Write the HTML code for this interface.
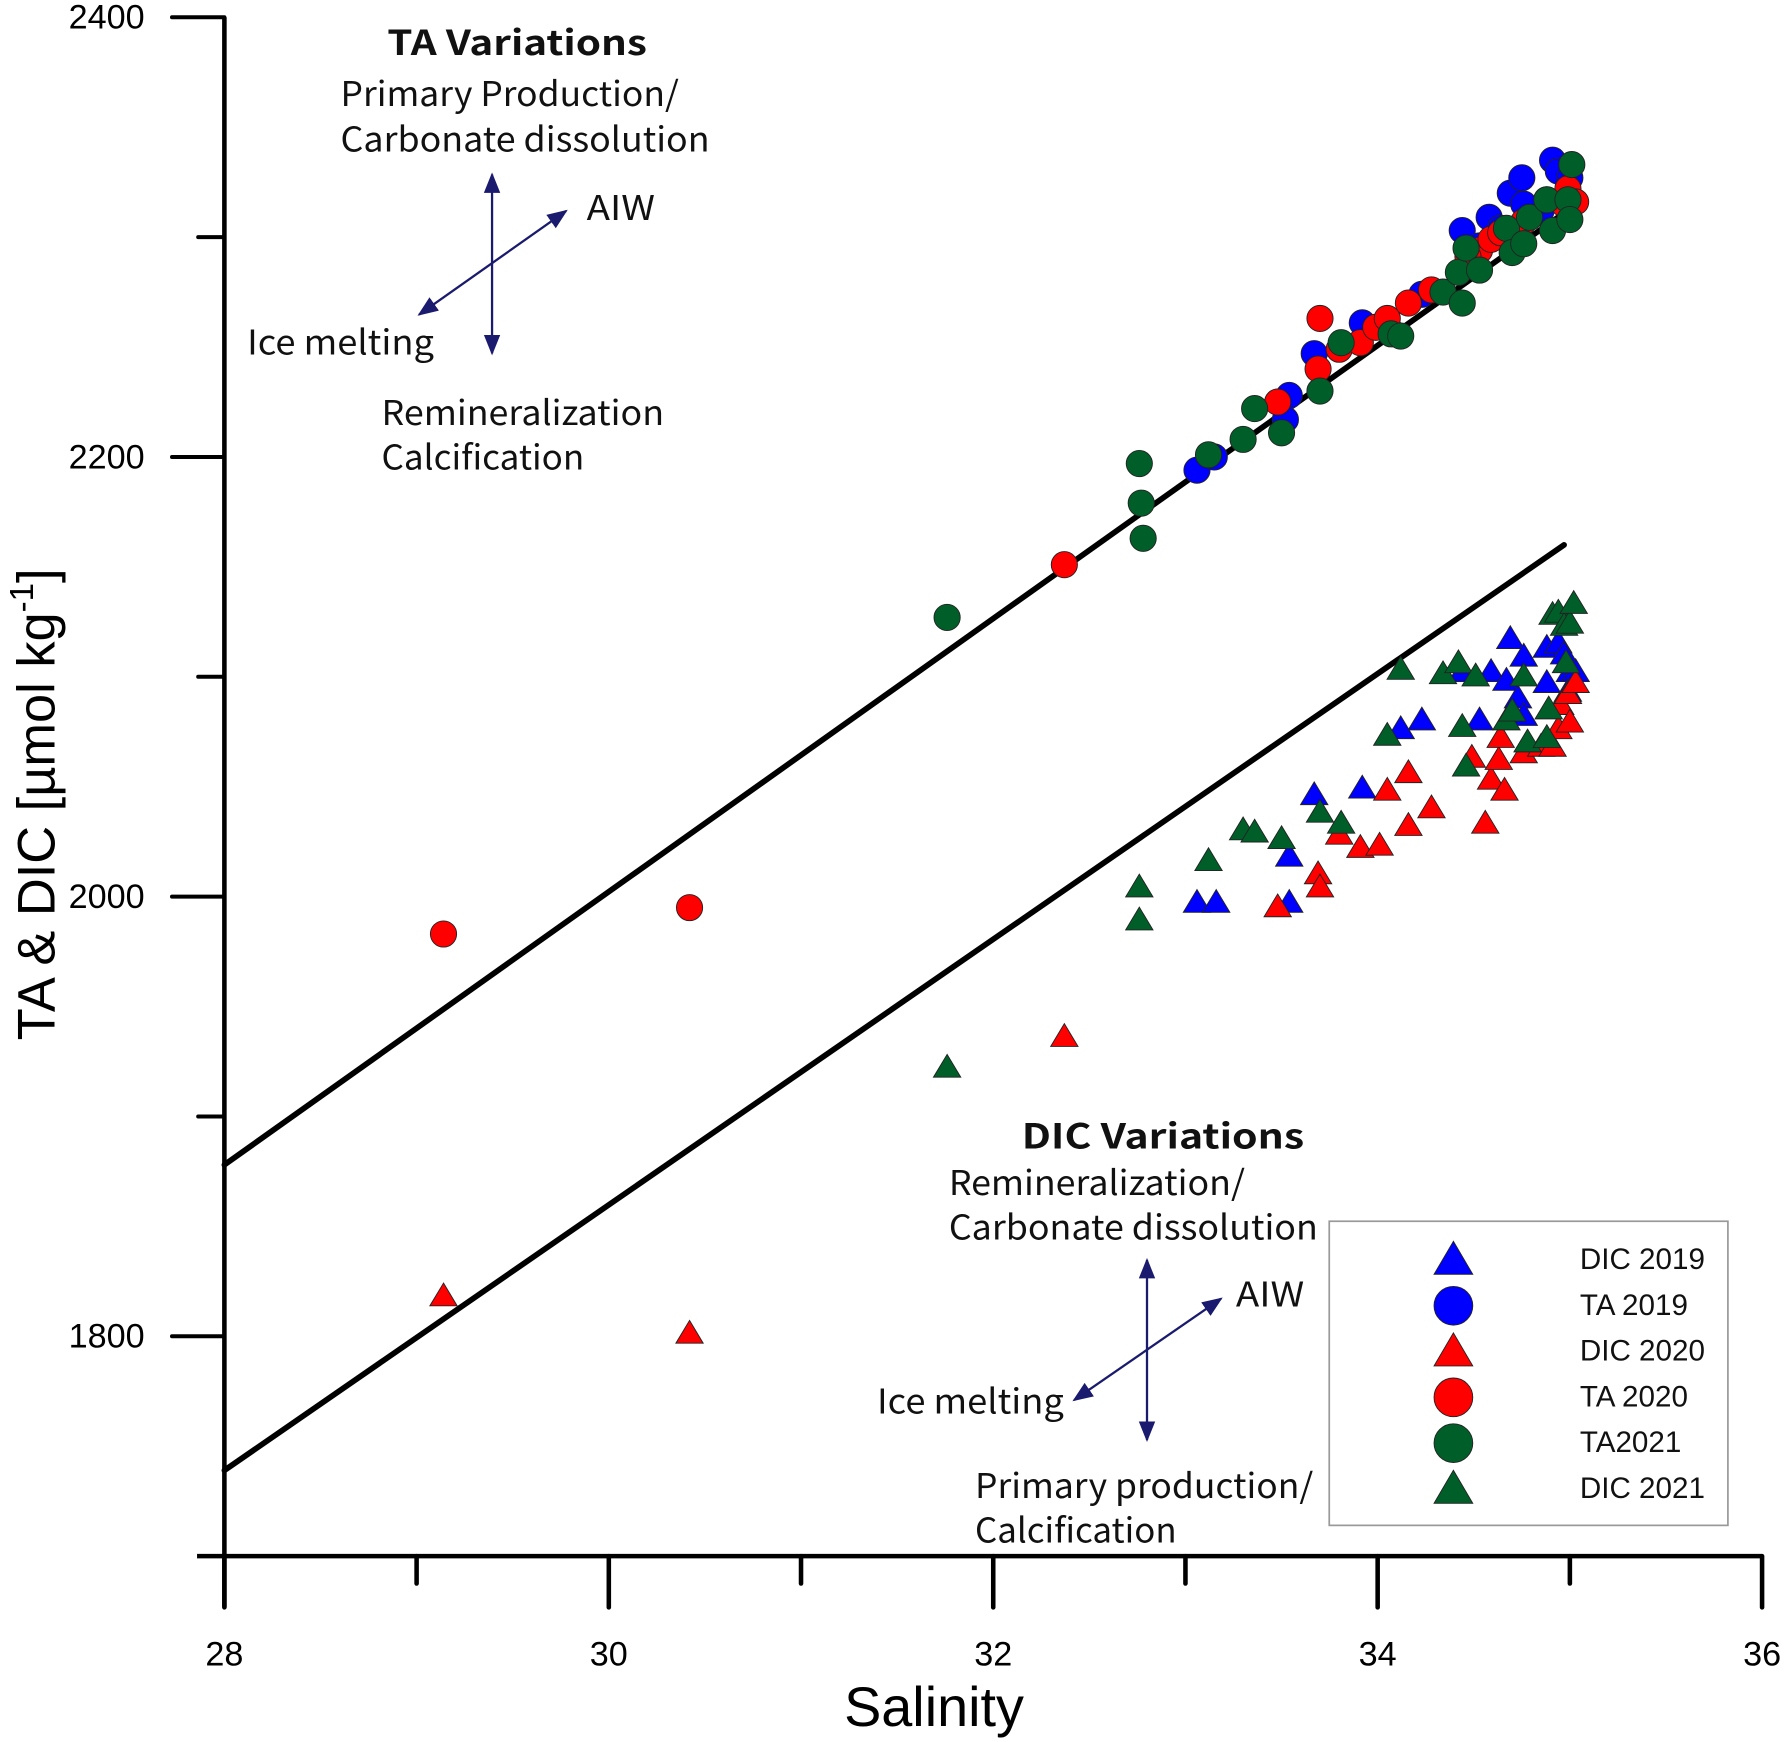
<!DOCTYPE html>
<html><head><meta charset="utf-8"><style>
html,body{margin:0;padding:0;background:#fff;}
svg{display:block;}
.ann{font-family:"Noto Sans CJK SC","DejaVu Sans",sans-serif;font-size:30px;fill:#111;}
.tick{font-family:"Liberation Sans",Arial,sans-serif;font-size:30px;fill:#000;}
.leg{font-family:"Liberation Sans",Arial,sans-serif;font-size:26px;fill:#111;}
</style></head><body>
<svg id="chart" width="1786" height="1742" viewBox="0 0 1568 1529" xmlns="http://www.w3.org/2000/svg">
<defs>
<marker id="ah" viewBox="0 0 10 10" refX="9" refY="5" markerWidth="9" markerHeight="9" orient="auto-start-reverse"><path d="M0,1 L10,5 L0,9 Z" fill="#1a1a6e"/></marker>
</defs>
<g id="axes"></g>
<g id="lines"></g>
<g id="marks"></g>

<text transform="translate(48,706) rotate(-90)" text-anchor="middle" font-family="Liberation Sans, Arial, sans-serif" font-size="46" fill="#000">TA &amp; DIC [µmol kg<tspan dy="-19" font-size="29">-1</tspan><tspan dy="19">]</tspan></text>
<text x="820" y="1515" text-anchor="middle" font-family="Liberation Sans, Arial, sans-serif" font-size="49" fill="#000">Salinity</text>

<g>
<text class="ann" x="340" y="48" font-weight="bold" font-size="32" textLength="228" lengthAdjust="spacingAndGlyphs">TA Variations</text>
<text class="ann" x="299" y="93" textLength="297" lengthAdjust="spacingAndGlyphs">Primary Production/</text>
<text class="ann" x="299" y="133" textLength="324" lengthAdjust="spacingAndGlyphs">Carbonate dissolution</text>
<text class="ann" x="515" y="193" textLength="60" lengthAdjust="spacingAndGlyphs">AIW</text>
<text class="ann" x="217" y="311" textLength="164" lengthAdjust="spacingAndGlyphs">Ice melting</text>
<text class="ann" x="335" y="373" textLength="248" lengthAdjust="spacingAndGlyphs">Remineralization</text>
<text class="ann" x="335" y="412" textLength="178" lengthAdjust="spacingAndGlyphs">Calcification</text>
<line x1="432" y1="153" x2="432" y2="310" stroke="#1a1a6e" stroke-width="2" marker-start="url(#ah)" marker-end="url(#ah)"/>
<line x1="368" y1="276" x2="497" y2="185" stroke="#1a1a6e" stroke-width="2" marker-start="url(#ah)" marker-end="url(#ah)"/>
</g>
<g>
<text class="ann" x="897" y="1008" font-weight="bold" font-size="32" textLength="248" lengthAdjust="spacingAndGlyphs">DIC Variations</text>
<text class="ann" x="833" y="1049" textLength="260" lengthAdjust="spacingAndGlyphs">Remineralization/</text>
<text class="ann" x="833" y="1088" textLength="324" lengthAdjust="spacingAndGlyphs">Carbonate dissolution</text>
<text class="ann" x="1085" y="1147" textLength="60" lengthAdjust="spacingAndGlyphs">AIW</text>
<text class="ann" x="770" y="1241" textLength="164" lengthAdjust="spacingAndGlyphs">Ice melting</text>
<text class="ann" x="856" y="1315" textLength="297" lengthAdjust="spacingAndGlyphs">Primary production/</text>
<text class="ann" x="856" y="1354" textLength="177" lengthAdjust="spacingAndGlyphs">Calcification</text>
<line x1="1007" y1="1106" x2="1007" y2="1264" stroke="#1a1a6e" stroke-width="2" marker-start="url(#ah)" marker-end="url(#ah)"/>
<line x1="943" y1="1229" x2="1072" y2="1140" stroke="#1a1a6e" stroke-width="2" marker-start="url(#ah)" marker-end="url(#ah)"/>
</g>
<g id="legend">
<rect x="1167" y="1072" width="350" height="267" fill="#fff" stroke="#999" stroke-width="1.5"/>
</g>
</svg>
<script>
// ---- data ----
const xTicks = [28, 30, 32, 34, 36];
const xMinor = [29, 31, 33, 35];
const yTicks = [1800, 2000, 2200, 2400];
const yMinor = [1900, 2100, 2300];
const taLine = [[28, 1878], [34.97, 2311]];
const dicLine = [[28, 1739], [34.97, 2160]];

const ta2019S = [33.06,33.15,33.54,33.52,33.67,33.92,34.07,34.23,34.44,34.58,34.69,34.75,34.91,34.94,35.00,34.85,34.76,34.64,34.53];
const ta2019V = [2194,2200,2228,2217,2247,2261,2257,2274,2303,2309,2320,2327,2335,2330,2327,2312,2315,2304,2296];
const ta2020S = [29.14,30.42,32.37,33.48,33.69,33.70,33.80,33.91,33.99,34.05,34.16,34.28,34.53,34.59,34.64,34.76,34.88,34.99,35.03,34.97,34.47];
const ta2020V = [1983,1995,2151,2225,2240,2263,2249,2252,2259,2263,2270,2276,2294,2299,2302,2307,2317,2322,2316,2315,2291];
const ta2021S = [31.76,32.76,32.77,32.78,33.12,33.30,33.36,33.50,33.70,33.81,34.07,34.12,34.34,34.44,34.42,34.46,34.53,34.67,34.70,34.76,34.79,34.88,34.91,34.99,35.01,35.00];
const ta2021V = [2127,2197,2179,2163,2201,2208,2222,2211,2230,2252,2256,2255,2275,2270,2284,2295,2285,2304,2293,2297,2309,2317,2303,2317,2333,2308];
const dic2019S = [33.06,33.16,33.54,33.54,33.67,33.92,34.12,34.23,34.44,34.59,34.53,34.69,34.76,34.67,34.73,34.76,34.88,34.94,34.97,35.00,35.03,34.88,34.99];
const dic2019V = [1997,1997,2018,1997,2046,2049,2076,2080,2102,2102,2080,2117,2109,2098,2090,2082,2113,2115,2110,2102,2102,2097,2093];
const dic2020S = [29.14,30.42,32.37,33.48,33.69,33.70,33.80,33.91,34.01,34.05,34.16,34.16,34.28,34.56,34.49,34.59,34.63,34.66,34.64,34.76,34.85,34.91,34.94,34.95,34.99,35.00,35.03];
const dic2020V = [1818,1801,1936,1995,2010,2004,2028,2022,2023,2048,2056,2032,2040,2033,2063,2053,2062,2048,2072,2065,2068,2068,2076,2087,2092,2079,2097];
const dic2021S = [31.76,32.76,32.76,33.12,33.30,33.36,33.50,33.70,33.81,34.05,34.12,34.34,34.42,34.51,34.44,34.46,34.67,34.76,34.70,34.78,34.88,34.89,34.91,34.94,34.97,35.00,35.02,34.98];
const dic2021V = [1922,2004,1989,2016,2030,2029,2026,2038,2033,2073,2103,2101,2106,2100,2077,2059,2080,2100,2084,2070,2072,2085,2128,2129,2123,2124,2133,2106];

// ---- scales ----
const X0 = 197, XPER = 168.75, Y0 = 15, YPER = 1.93;
const sx = s => X0 + (s - 28) * XPER;
const sy = v => Y0 + (2400 - v) * YPER;
const NS = 'http://www.w3.org/2000/svg';
function mk(tag, attrs, parent) {
  const e = document.createElementNS(NS, tag);
  for (const k in attrs) e.setAttribute(k, attrs[k]);
  parent.appendChild(e);
  return e;
}
const axes = document.getElementById('axes');
const xBase = sy(1700);
let e;
e = mk('line', {x1: sx(28), y1: sy(2400), x2: sx(28), y2: xBase + 45, stroke: '#000', 'stroke-width': 4}, axes);


e = mk('line', {x1: sx(28) - 24, y1: xBase, x2: sx(36), y2: xBase, stroke: '#000', 'stroke-width': 4}, axes);


xTicks.forEach(t => {
  const x = sx(t);
  e = mk('line', {x1: x, y1: xBase, x2: x, y2: xBase + 45, stroke: '#000', 'stroke-width': 4, 'stroke-linecap': 'round'}, axes);
  
  
  e = mk('text', {x: x, y: xBase + 96, class: 'tick', 'text-anchor': 'middle'}, axes);
  e.textContent = t;
  
  
});
xMinor.forEach(t => {
  const x = sx(t);
  e = mk('line', {x1: x, y1: xBase, x2: x, y2: xBase + 24, stroke: '#000', 'stroke-width': 4, 'stroke-linecap': 'round'}, axes);
  
  
});
yTicks.forEach(t => {
  const y = sy(t);
  e = mk('line', {x1: 151, y1: y, x2: sx(28), y2: y, stroke: '#000', 'stroke-width': 3.5, 'stroke-linecap': 'round'}, axes);
  
  
  e = mk('text', {x: 127, y: y + 10, class: 'tick', 'text-anchor': 'end'}, axes);
  e.textContent = t;
  
  
});
yMinor.forEach(t => {
  const y = sy(t);
  e = mk('line', {x1: 174, y1: y, x2: sx(28), y2: y, stroke: '#000', 'stroke-width': 3.5, 'stroke-linecap': 'round'}, axes);
  
  
});
const lines = document.getElementById('lines');
e = mk('line', {x1: sx(taLine[0][0]), y1: sy(taLine[0][1]), x2: sx(taLine[1][0]), y2: sy(taLine[1][1]), stroke: '#000', 'stroke-width': 5, 'stroke-linecap': 'round'}, lines);


e = mk('line', {x1: sx(dicLine[0][0]), y1: sy(dicLine[0][1]), x2: sx(dicLine[1][0]), y2: sy(dicLine[1][1]), stroke: '#000', 'stroke-width': 5, 'stroke-linecap': 'round'}, lines);



const marks = document.getElementById('marks');
function tri(cx, cy, w, h, fill, parent) {
  const p = `${cx},${cy - h * 0.6} ${cx - w / 2},${cy + h * 0.4} ${cx + w / 2},${cy + h * 0.4}`;
  return mk('polygon', {points: p, fill: fill, stroke: '#222', 'stroke-width': 0.8}, parent);
}
function circ(cx, cy, r, fill, parent) {
  return mk('circle', {cx: cx, cy: cy, r: r, fill: fill, stroke: '#222', 'stroke-width': 0.8}, parent);
}
const BLUE = '#0000ff', RED = '#ff0000', GREEN = '#005f28';
const triSeries = [[dic2019S, dic2019V, BLUE, 'dic-2019-point'], [dic2020S, dic2020V, RED, 'dic-2020-point'], [dic2021S, dic2021V, GREEN, 'dic-2021-point']];
const circSeries = [[ta2019S, ta2019V, BLUE, 'ta-2019-point'], [ta2020S, ta2020V, RED, 'ta-2020-point'], [ta2021S, ta2021V, GREEN, 'ta-2021-point']];
triSeries.forEach(([S, V, c, n]) => S.forEach((s, i) => {
  e = tri(sx(s), sy(V[i]), 24, 20, c, marks);
  
  
}));
circSeries.forEach(([S, V, c, n]) => S.forEach((s, i) => {
  e = circ(sx(s), sy(V[i]), 11.5, c, marks);
  
  
}));

const legendLabels = ['DIC 2019', 'TA 2019', 'DIC 2020', 'TA 2020', 'TA2021', 'DIC 2021'];
const legendShapes = ['tri', 'circ', 'tri', 'circ', 'circ', 'tri'];
const legendColors = [BLUE, BLUE, RED, RED, GREEN, GREEN];
const leg = document.getElementById('legend');
legendLabels.forEach((lab, i) => {
  const y = 1105 + i * 40.2;
  e = legendShapes[i] === 'tri' ? tri(1276, y + 2, 34, 29, legendColors[i], leg) : circ(1276, y + 1, 17, legendColors[i], leg);
  
  
  e = mk('text', {x: 1387, y: y + 9, class: 'leg'}, leg);
  e.textContent = lab;
  
  
});
</script>
</body></html>
